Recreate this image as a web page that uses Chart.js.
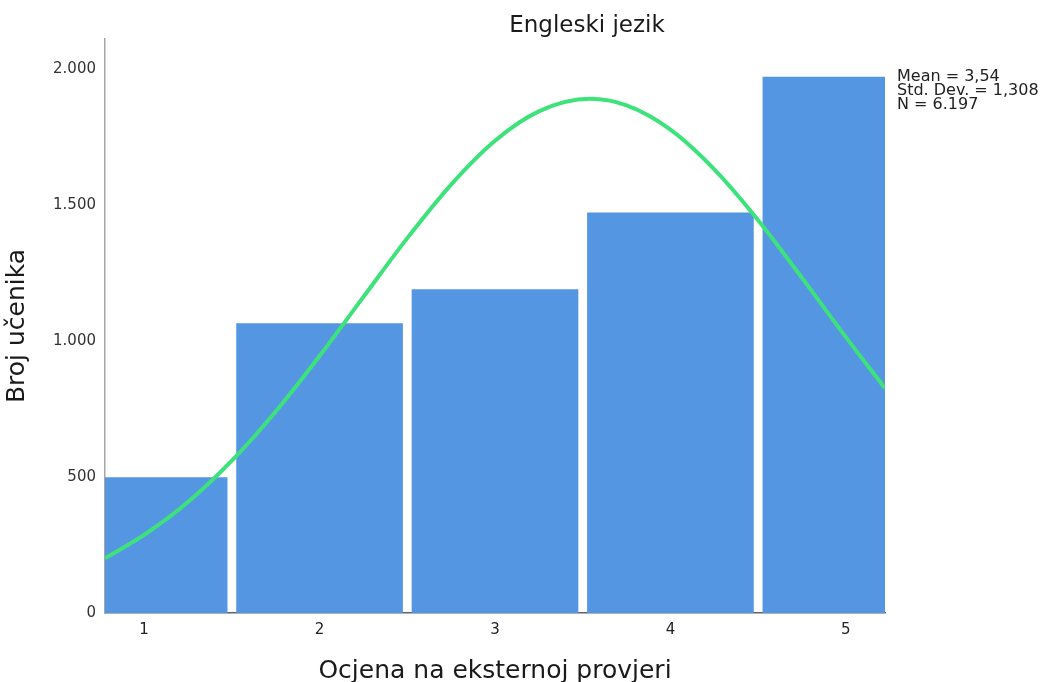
<!DOCTYPE html>
<html>
<head>
<meta charset="utf-8">
<title>Engleski jezik</title>
<script src="https://cdn.jsdelivr.net/npm/chart.js@4/dist/chart.umd.min.js"></script>
<style>
    html, body { margin: 0; padding: 0; background: #ffffff; }
    #wrap { width: 1043px; height: 682px; position: relative; }
</style>
</head>
<body>
<div id="wrap"><canvas id="histo"></canvas></div>
<script>
// Histogram data (Ocjena na eksternoj provjeri)
const grades = [1, 2, 3, 4, 5];
const studentCounts = [499, 1065, 1190, 1472, 1971];

// Normal curve at these grade values
const curveX = [0.777, 1, 1.25, 1.5, 1.75, 2, 2.25, 2.5, 2.75, 3, 3.25, 3.54, 3.75, 4, 4.25, 4.5, 4.75, 5, 5.223];
const curveY = [201, 287, 408, 560, 741, 945, 1162, 1378, 1575, 1736, 1844, 1890, 1866, 1777, 1631, 1444, 1232, 1014, 826];

// Axis ticks and ranges
const xTicks = [1, 2, 3, 4, 5];
const yTicks = [0, 500, 1000, 1500, 2000];
const xRange = [0.777, 5.223];
const yRange = [0, 2110];

const statLines = ['Mean = 3,54', 'Std. Dev. = 1,308', 'N = 6.197'];

const FONT = "'DejaVu Sans', Verdana, sans-serif";

// thousands separator with a dot, as in the original
const fmt = v => String(v).replace(/\B(?=(\d{3})+(?!\d))/g, '.');

// titles and the stats box drawn as plain text
const textPlugin = {
    id: 'textPlugin',
    afterDraw(chart) {
        const { ctx, chartArea } = chart;
        ctx.save();
        ctx.fillStyle = '#1a1a1a';

        ctx.font = '23px ' + FONT;
        ctx.textAlign = 'center';
        ctx.textBaseline = 'alphabetic';
        ctx.fillText('Engleski jezik', 587, 32);

        ctx.font = '25px ' + FONT;
        ctx.fillText('Ocjena na eksternoj provjeri', (chartArea.left + chartArea.right) / 2, 678);

        ctx.save();
        ctx.translate(17, (chartArea.top + chartArea.bottom) / 2);
        ctx.rotate(-Math.PI / 2);
        ctx.textBaseline = 'middle';
        ctx.fillText('Broj učenika', 0, 0);
        ctx.restore();

        ctx.font = '16px ' + FONT;
        ctx.textAlign = 'left';
        ctx.fillStyle = '#222';
        statLines.forEach((s, i) => {
            ctx.fillText(s, chartArea.right + 12, 81 + i * 14);
        });
        ctx.restore();
    }
};

new Chart(document.getElementById('histo'), {
    type: 'bar',
    data: {
        datasets: [
            {
                type: 'line',
                data: curveX.map((x, i) => ({ x: x, y: curveY[i] })),
                borderColor: '#3de27a',
                borderWidth: 4,
                pointRadius: 0,
                cubicInterpolationMode: 'monotone',
                fill: false,
                order: 0
            },
            {
                type: 'bar',
                data: grades.map((g, i) => ({ x: g, y: studentCounts[i] })),
                backgroundColor: '#5596e3',
                borderWidth: 0,
                barPercentage: 1,
                categoryPercentage: 0.95,
                order: 1
            }
        ]
    },
    options: {
        responsive: true,
        maintainAspectRatio: false,
        animation: false,
        layout: { padding: { left: 45, right: 158, top: 39, bottom: 0 } },
        plugins: {
            legend: { display: false },
            tooltip: { enabled: false },
            title: { display: false }
        },
        scales: {
            x: {
                type: 'linear',
                offset: false,
                min: xRange[0],
                max: xRange[1],
                afterBuildTicks: s => { s.ticks = xTicks.map(v => ({ value: v })); },
                afterFit: s => { s.height = 69; },
                grid: { display: false, drawTicks: false, offset: false },
                border: { display: true, color: '#5a6270', width: 1.5 },
                ticks: {
                    color: '#222',
                    padding: 8,
                    font: { family: FONT, size: 15 },
                    maxRotation: 0
                }
            },
            y: {
                min: yRange[0],
                max: yRange[1],
                afterBuildTicks: s => { s.ticks = yTicks.map(v => ({ value: v })); },
                afterFit: s => { s.width = 60; },
                grid: { display: false, drawTicks: false },
                border: { display: true, color: '#a6a6a6', width: 1.5 },
                ticks: {
                    color: '#333',
                    padding: 9,
                    font: { family: FONT, size: 15 },
                    callback: v => fmt(v)
                }
            }
        }
    },
    plugins: [textPlugin]
});
</script>
</body>
</html>
